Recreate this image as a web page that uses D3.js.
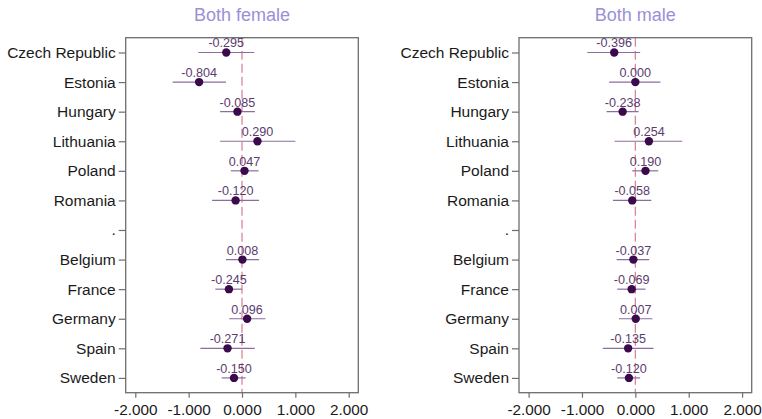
<!DOCTYPE html>
<html>
<head>
<meta charset="utf-8">
<script src="https://cdn.jsdelivr.net/npm/d3@7"></script>
<style>
  html, body { margin: 0; padding: 0; background: #fff; }
  svg { display: block; }
  text { font-family: "Liberation Sans", Arial, sans-serif; }
</style>
</head>
<body>
<svg id="chart" width="762" height="419"></svg>
<script>
const categories = ["Czech Republic", "Estonia", "Hungary", "Lithuania", "Poland", "Romania", ".", "Belgium", "France", "Germany", "Spain", "Sweden"];
const panelTitles = ["Both female", "Both male"];
const xTicks = [-2, -1, 0, 1, 2];

const femaleEst = [-0.295, -0.804, -0.085, 0.290, 0.047, -0.120, null, 0.008, -0.245, 0.096, -0.271, -0.150];
const femaleLo  = [-0.82, -1.30, -0.41, -0.41, -0.21, -0.56, null, -0.30, -0.50, -0.24, -0.78, -0.38];
const femaleHi  = [0.23, -0.30, 0.24, 1.00, 0.31, 0.32, null, 0.32, 0.00, 0.44, 0.24, 0.07];

const maleEst = [-0.396, 0.000, -0.238, 0.254, 0.190, -0.058, null, -0.037, -0.069, 0.007, -0.135, -0.120];
const maleLo  = [-0.90, -0.49, -0.54, -0.39, -0.06, -0.42, null, -0.35, -0.34, -0.31, -0.61, -0.34];
const maleHi  = [0.09, 0.47, 0.06, 0.88, 0.43, 0.30, null, 0.26, 0.19, 0.32, 0.34, 0.09];

const panels = [
  { title: panelTitles[0], est: femaleEst, lo: femaleLo, hi: femaleHi, left: 125.7, right: 358.3 },
  { title: panelTitles[1], est: maleEst, lo: maleLo, hi: maleHi, left: 519, right: 751.7 }
];

const plotTop = 37.7, plotBottom = 392.7;
const svg = d3.select("#chart");

const y = d3.scalePoint().domain(categories).range([plotTop, plotBottom]).padding(0.5);

panels.forEach(p => {
  const x = d3.scaleLinear().domain([-2.18, 2.18]).range([p.left, p.right]);
  const g = svg.append("g");

  // reference line at 0
  g.append("line")
    .attr("x1", x(0)).attr("x2", x(0))
    .attr("y1", plotTop).attr("y2", plotBottom)
    .attr("stroke", "#d9889a").attr("stroke-width", 1.3)
    .attr("stroke-dasharray", "9,4");

  const rows = categories.map((c, i) => ({ c, est: p.est[i], lo: p.lo[i], hi: p.hi[i] }))
    .filter(d => d.est !== null);

  g.selectAll(".ci").data(rows).enter().append("line")
    .attr("x1", d => x(d.lo)).attr("x2", d => x(d.hi))
    .attr("y1", d => y(d.c)).attr("y2", d => y(d.c))
    .attr("stroke", "#8d6d9e").attr("stroke-width", 1.2);

  g.selectAll(".dot").data(rows).enter().append("circle")
    .attr("cx", d => x(d.est)).attr("cy", d => y(d.c)).attr("r", 4.2)
    .attr("fill", "#3a0a4c");

  g.selectAll(".lab").data(rows).enter().append("text")
    .attr("x", d => x(d.est)).attr("y", d => y(d.c) - 5)
    .attr("text-anchor", "middle")
    .attr("font-size", 12.6)
    .attr("fill", "#5b3c6e")
    .text(d => d3.format(".3f")(d.est).replace("−", "-"));

  // box
  g.append("rect")
    .attr("x", p.left).attr("y", plotTop)
    .attr("width", p.right - p.left).attr("height", plotBottom - plotTop)
    .attr("fill", "none").attr("stroke", "#6e6e6e").attr("stroke-width", 1.3);

  // y axis
  const ya = g.append("g").attr("transform", `translate(${p.left},0)`)
    .call(d3.axisLeft(y).tickSize(7).tickPadding(3));
  ya.select(".domain").remove();
  ya.selectAll(".tick line").attr("stroke", "#6e6e6e").attr("stroke-width", 1.2);
  ya.selectAll(".tick text").attr("font-size", 15.5).attr("fill", "#1a1a1a")
    .attr("font-family", "Liberation Sans, Arial, sans-serif");

  // x axis
  const xa = g.append("g").attr("transform", `translate(0,${plotBottom})`)
    .call(d3.axisBottom(x).tickValues(xTicks).tickSize(5).tickPadding(6)
      .tickFormat(v => d3.format(".3f")(v).replace("−", "-")));
  xa.select(".domain").remove();
  xa.selectAll(".tick line").attr("stroke", "#6e6e6e").attr("stroke-width", 1.2);
  xa.selectAll(".tick text").attr("font-size", 15.3).attr("fill", "#1a1a1a")
    .attr("font-family", "Liberation Sans, Arial, sans-serif");

  // title
  g.append("text")
    .attr("x", x(0)).attr("y", 21)
    .attr("text-anchor", "middle")
    .attr("font-size", 18)
    .attr("fill", "#9a90d8")
    .text(p.title);
});
</script>
</body>
</html>
